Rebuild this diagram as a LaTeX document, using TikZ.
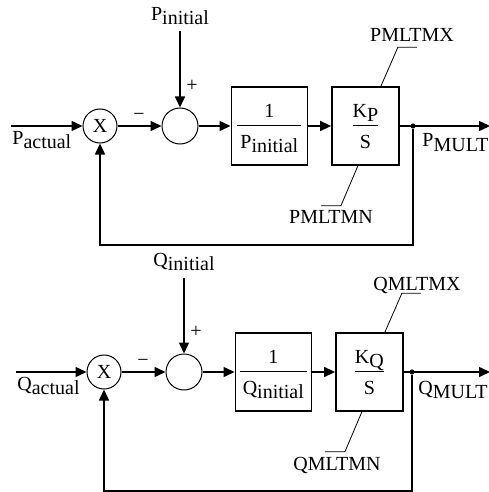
\documentclass[tikz,border=0pt]{standalone}
\usepackage{fontspec}
\setmainfont{Liberation Serif}
\usepackage{tikz}
\usetikzlibrary{arrows.meta,positioning,calc}
\setlength{\arrayrulewidth}{0.6pt}
\newcommand{\sub}[1]{\raisebox{-2pt}{#1}}
\newcommand{\blkfrac}[3][1.5pt]{\begin{tabular}{@{\hspace{#1}}c@{\hspace{#1}}}\rule{0pt}{10.6pt}#2\\\hline\rule{0pt}{11pt}#3\end{tabular}}
\tikzset{
  mul/.style={circle,draw,line width=0.5pt,minimum size=17pt,inner sep=0pt},
  sumc/.style={mul,minimum size=18pt},
  blk/.style={draw,line width=0.8pt,minimum height=39pt,inner sep=0pt},
  arr/.style={-{Triangle[length=5.5pt,width=5pt]},line width=0.75pt},
  lead/.style={line width=0.4pt},
  lbl/.style={inner sep=0pt},
  inlbl/.style={inner sep=0pt,outer sep=3.5pt},
  dot/.style={circle,fill,inner sep=0pt,minimum size=2.6pt},
}

\begin{document}
\begin{tikzpicture}[x=1pt,y=1pt]
\useasboundingbox (0,0) rectangle (244,-246);
% P loop
\node[mul] (xp) at (50,-63) {X};
\node[sumc,right=22pt of xp] (sp) {};
\node[blk,minimum width=38pt,right=16pt of sp] (bp1) {\blkfrac{1}{P\sub{initial}}};
\node[blk,minimum width=33.5pt,right=11.5pt of bp1] (bp2) {\blkfrac[0pt]{K\sub{P}}{S}};
\node[dot] (dp) at (206.5,-63) {};
\coordinate (pa) at (5.5,-63);
\coordinate (po) at (245,-63);
\node[inlbl,above=38pt of sp] (pin) {P\sub{initial}};
\node[lbl,anchor=base west] (pact) at (6,-72) {P\sub{actual}};
\node[lbl,anchor=base west] (pmu) at (211,-73.5) {P\sub{MULT}};
\node[lbl] (pminus) at (69.5,-58.5) {−};
\node[lbl] (pplus) at (96,-43) {+};
\node[lbl,anchor=base] (pmx) at (206,-21) {PMLTMX};
\node[lbl,anchor=base] (pmn) at (165.5,-111.5) {PMLTMN};
\draw[arr] (pa) -- (xp); \draw[arr] (xp) -- (sp); \draw[arr] (pin) -- (sp);
\draw[arr] (sp) -- (bp1); \draw[arr] (bp1) -- (bp2); \draw[arr] (bp2) -- (po);
\draw[arr] (dp) -- ++(0,-59.5) -| (xp);
\draw[lead] ([xshift=7.75pt]bp2.north) -- ++(8.5,19.5) -- ++(9.5,0);
\draw[lead] ([xshift=-3.75pt]bp2.south) -- ++(-8.5,-20) -- ++(-10,0);
% Q loop
\begin{scope}[shift={(2,-123)}]
\node[mul] (xq) at (50,-63) {X};
\node[sumc,right=22pt of xq] (sq) {};
\node[blk,minimum width=38pt,right=16pt of sq] (bq1) {\blkfrac{1}{Q\sub{initial}}};
\node[blk,minimum width=33.5pt,right=11.5pt of bq1] (bq2) {\blkfrac[0pt]{K\sub{Q}}{S}};
\node[dot] (dq) at (204,-63) {};
\coordinate (qa) at (6,-63);
\coordinate (qo) at (243,-63);
\node[inlbl,above=38pt of sq] (qin) {Q\sub{initial}};
\node[lbl,anchor=base west] (qact) at (6.5,-72) {Q\sub{actual}};
\node[lbl,anchor=base west] (qmu) at (207,-74) {Q\sub{MULT}};
\node[lbl] (qminus) at (69.5,-58.5) {−};
\node[lbl] (qplus) at (96,-43) {+};
\node[lbl,anchor=base] (qmx) at (206.5,-22) {QMLTMX};
\node[lbl,anchor=base] (qmn) at (166.5,-112) {QMLTMN};
\draw[arr] (qa) -- (xq); \draw[arr] (xq) -- (sq); \draw[arr] (qin) -- (sq);
\draw[arr] (sq) -- (bq1); \draw[arr] (bq1) -- (bq2); \draw[arr] (bq2) -- (qo);
\draw[arr] (dq) -- ++(0,-59.5) -| (xq);
\draw[lead] ([xshift=7.75pt]bq2.north) -- ++(8.5,19.5) -- ++(9.5,0);
\draw[lead] ([xshift=-3.75pt]bq2.south) -- ++(-8.5,-20) -- ++(-10,0);
\end{scope}
\end{tikzpicture}
\end{document}
